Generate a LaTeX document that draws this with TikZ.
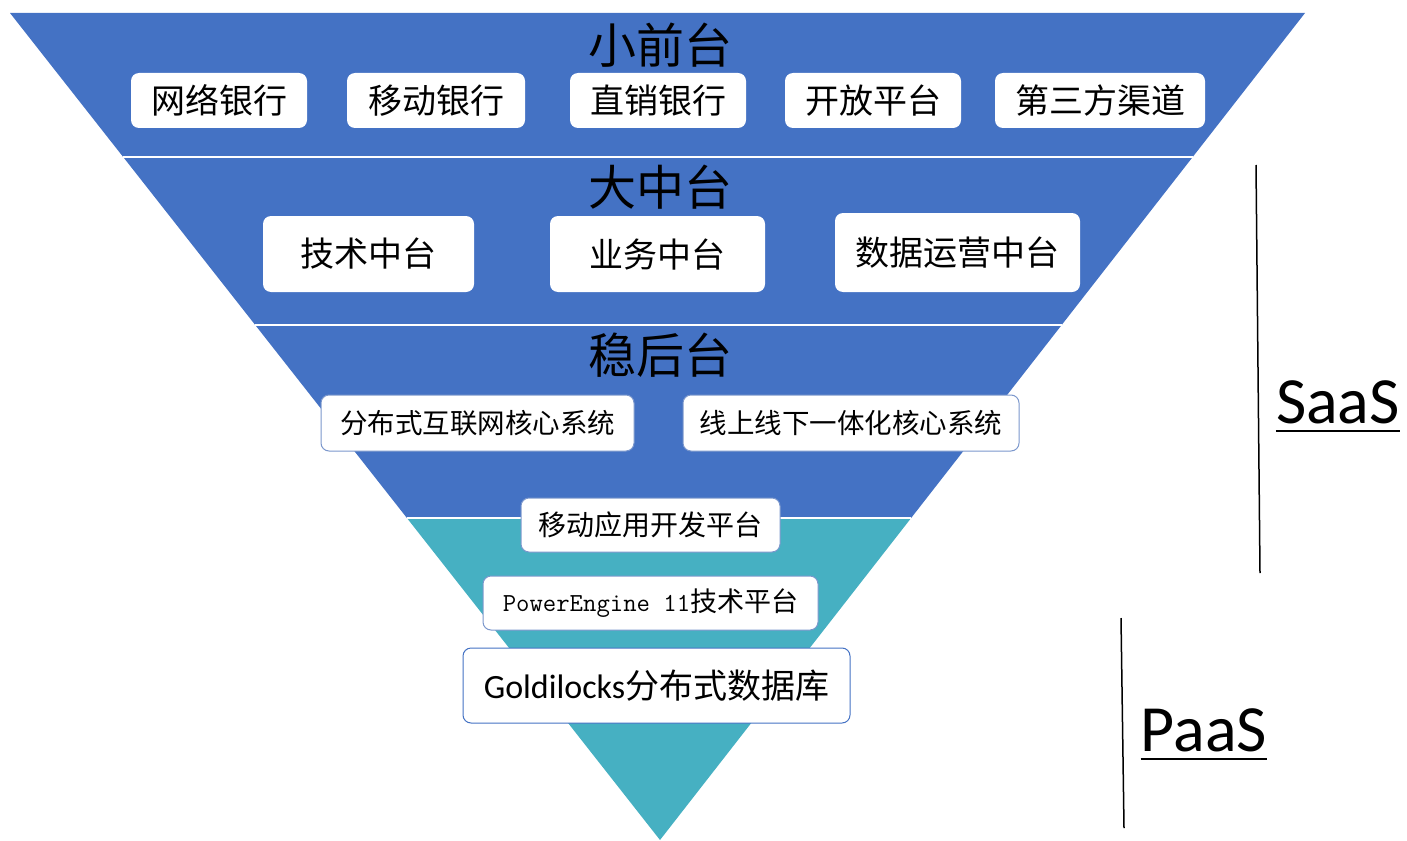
\documentclass[tikz,border=0pt]{standalone}
\usepackage{fontspec}
\usetikzlibrary{calc}
\newfontfamily\cjk{Noto Sans CJK SC}
\newfontfamily\calib{Carlito}
\definecolor{pyblue}{HTML}{4472C4}
\definecolor{pyteal}{HTML}{46B0C2}
\definecolor{rim}{HTML}{7B97CC}
\tikzset{
 tag/.style={fill=white, rounded corners=8pt, inner sep=0pt, align=center,
  font=\cjk\fontsize{34}{38}\selectfont},
 tagrim/.style={tag, draw=rim, line width=1pt, font=\cjk\fontsize{27.5}{30}\selectfont},
 layer/.style={font=\cjk\fontsize{48}{52}\selectfont},
 cloud/.style={inner sep=0pt, font=\calib\fontsize{66}{70}\selectfont},
}

\begin{document}
\begin{tikzpicture}[x=1pt,y=-1pt]
 \useasboundingbox (0,0) rectangle (1407,840);
 \coordinate (TL) at (10,13);
 \coordinate (TR) at (1305,13);
 \coordinate (A) at (660,840);
 % blue part, then the teal tip
 \fill[pyblue] (TL) -- (TR) -- ($(TR)!505/827!(A)$) -- ($(TL)!505/827!(A)$) -- cycle;
 \fill[pyteal] ($(TL)!505/827!(A)$) -- ($(TR)!505/827!(A)$) -- (A) -- cycle;
 \foreach \Y in {144,312,505}
  \draw[white, line width=1.5pt] ($(TL)!\Y/827!(A)$) -- ($(TR)!\Y/827!(A)$);

 % layer titles
 \node[layer] (front) at (660,45) {小前台};
 \node[layer] (middle) at (660,187) {大中台};
 \node[layer] (back) at (660,355) {稳后台};

 % front
 \node[tag, minimum width=176, minimum height=55] (net) at (219,100.5) {网络银行};
 \node[tag, minimum width=178, minimum height=55] (mob) at (436,100.5) {移动银行};
 \node[tag, minimum width=176, minimum height=55] (dir) at (658,100.5) {直销银行};
 \node[tag, minimum width=176, minimum height=55] (open) at (873,100.5) {开放平台};
 \node[tag, minimum width=210, minimum height=55] (third) at (1100,100.5) {第三方渠道};

 % middle
 \node[tag, minimum width=211, minimum height=76] (tech) at (368.5,254) {技术中台};
 \node[tag, minimum width=215, minimum height=76] (biz) at (657.5,254) {业务中台};
 \node[tag, minimum width=245, minimum height=79] (data) at (957.5,252.5) {数据运营中台};

 % back
 \node[tagrim, minimum width=313, minimum height=56] (dist) at (477.5,423) {分布式互联网核心系统};
 \node[tagrim, minimum width=336, minimum height=56] (omni) at (851,423) {线上线下一体化核心系统};

 % paas
 \node[tagrim, minimum width=259, minimum height=54, font=\cjk\fontsize{28}{30}\selectfont]
  (app) at (650.5,525) {移动应用开发平台};
 \node[tagrim, minimum width=335, minimum height=54, font=\cjk\fontsize{27}{30}\selectfont]
  (pe) at (650.5,603) {{\ttfamily\fontsize{26}{28}\selectfont PowerEngine 11}技术平台};
 \node[tagrim, minimum width=387, minimum height=75, draw=pyblue, font=\cjk\fontsize{34}{38}\selectfont]
  (gold) at (656.5,685.5) {{\calib Goldilocks}分布式数据库};

 % brackets
 \coordinate (s1) at (1256,165);
 \coordinate (s2) at (1260,573);
 \coordinate (p1) at (1121,618);
 \coordinate (p2) at (1124,828);
 \draw[line width=1.5pt] (s1) -- (s2);
 \draw[line width=1.5pt] (p1) -- (p2);
 \node[cloud] (saas) at (1338,402) {SaaS};
 \node[cloud] (paas) at (1204,730) {PaaS};
 \draw[line width=2.5pt] ([yshift=-8pt]saas.base west) -- ([yshift=-8pt]saas.base east);
 \draw[line width=2.5pt] ([yshift=-8pt]paas.base west) -- ([yshift=-8pt]paas.base east);
\end{tikzpicture}
\end{document}
